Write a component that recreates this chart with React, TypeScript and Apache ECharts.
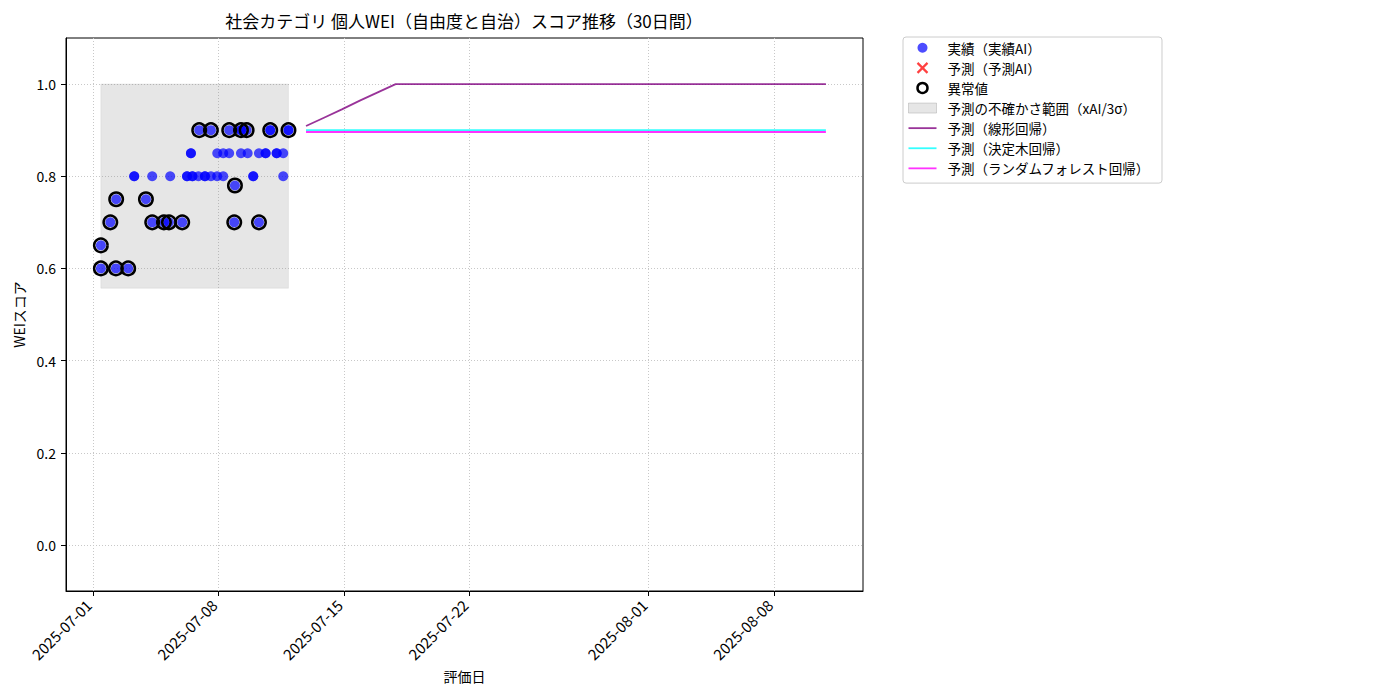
import React, { useEffect, useRef } from "react";
import * as echarts from "echarts";

// ---------- data ----------
const actualDates = [
  "2025-07-01T10:40", "2025-07-01T10:40", "2025-07-01T23:20", "2025-07-02T06:50", "2025-07-02T07:10",
  "2025-07-02T23:15", "2025-07-03T07:20", "2025-07-03T07:20", "2025-07-03T23:00", "2025-07-04T07:25",
  "2025-07-04T07:25", "2025-07-04T23:05", "2025-07-05T05:50", "2025-07-05T07:30", "2025-07-05T23:35",
  "2025-07-06T06:00", "2025-07-06T06:00", "2025-07-06T11:15", "2025-07-06T11:15", "2025-07-06T13:15",
  "2025-07-06T13:15", "2025-07-06T21:15", "2025-07-06T22:20", "2025-07-07T06:00", "2025-07-07T06:00",
  "2025-07-07T14:00", "2025-07-07T14:00", "2025-07-07T22:20", "2025-07-07T22:30", "2025-07-08T06:30",
  "2025-07-08T06:30", "2025-07-08T14:25", "2025-07-08T14:30", "2025-07-08T21:15", "2025-07-08T22:10",
  "2025-07-09T06:15", "2025-07-09T06:15", "2025-07-09T06:15", "2025-07-09T13:50", "2025-07-09T15:10",
  "2025-07-09T22:40", "2025-07-09T22:40", "2025-07-10T06:20", "2025-07-10T06:20", "2025-07-10T15:15",
  "2025-07-10T15:15", "2025-07-10T21:25", "2025-07-10T21:25", "2025-07-11T06:00", "2025-07-11T06:00",
  "2025-07-11T14:50", "2025-07-11T14:50", "2025-07-11T21:50", "2025-07-11T21:50",
];
const actualValues = [
  0.6, 0.65, 0.7, 0.6, 0.75,
  0.6, 0.8, 0.8, 0.75, 0.8,
  0.7, 0.7, 0.7, 0.8, 0.7,
  0.8, 0.8, 0.85, 0.85, 0.8,
  0.8, 0.8, 0.9, 0.8, 0.8,
  0.8, 0.9, 0.8, 0.85, 0.8,
  0.85, 0.85, 0.9, 0.7, 0.78,
  0.85, 0.9, 0.9, 0.9, 0.85,
  0.8, 0.8, 0.85, 0.7, 0.85,
  0.85, 0.9, 0.9, 0.85, 0.85,
  0.85, 0.8, 0.9, 0.9,
];

const outlierDates = [
  "2025-07-01T10:40", "2025-07-01T10:40", "2025-07-01T23:20", "2025-07-02T06:50", "2025-07-02T07:10",
  "2025-07-02T23:15", "2025-07-03T23:00", "2025-07-04T07:25", "2025-07-04T23:05", "2025-07-05T05:50",
  "2025-07-05T23:35", "2025-07-06T22:20", "2025-07-07T14:00", "2025-07-08T14:30", "2025-07-08T21:15",
  "2025-07-08T22:10", "2025-07-09T06:15", "2025-07-09T13:50", "2025-07-10T06:20", "2025-07-10T21:25",
  "2025-07-11T21:50",
];
const outlierValues = [
  0.6, 0.65, 0.7, 0.6, 0.75,
  0.6, 0.75, 0.7, 0.7, 0.7,
  0.7, 0.9, 0.9, 0.9, 0.7,
  0.78, 0.9, 0.9, 0.7, 0.9,
  0.9,
];

const predDates = [
  "2025-07-12T21:20", "2025-07-13T21:20", "2025-07-14T21:20", "2025-07-15T21:20", "2025-07-16T21:20",
  "2025-07-17T21:20", "2025-07-18T21:20", "2025-07-19T21:20", "2025-07-20T21:20", "2025-07-21T21:20",
  "2025-07-22T21:20", "2025-07-23T21:20", "2025-07-24T21:20", "2025-07-25T21:20", "2025-07-26T21:20",
  "2025-07-27T21:20", "2025-07-28T21:20", "2025-07-29T21:20", "2025-07-30T21:20", "2025-07-31T21:20",
  "2025-08-01T21:20", "2025-08-02T21:20", "2025-08-03T21:20", "2025-08-04T21:20", "2025-08-05T21:20",
  "2025-08-06T21:20", "2025-08-07T21:20", "2025-08-08T21:20", "2025-08-09T21:20", "2025-08-10T21:20",
];
const linearPred = [
  0.909, 0.927, 0.945, 0.964, 0.982, 1.0, 1.0, 1.0, 1.0, 1.0,
  1.0, 1.0, 1.0, 1.0, 1.0, 1.0, 1.0, 1.0, 1.0, 1.0,
  1.0, 1.0, 1.0, 1.0, 1.0, 1.0, 1.0, 1.0, 1.0, 1.0,
];
const treePred = [
  0.9, 0.9, 0.9, 0.9, 0.9, 0.9, 0.9, 0.9, 0.9, 0.9,
  0.9, 0.9, 0.9, 0.9, 0.9, 0.9, 0.9, 0.9, 0.9, 0.9,
  0.9, 0.9, 0.9, 0.9, 0.9, 0.9, 0.9, 0.9, 0.9, 0.9,
];
const forestPred = [
  0.896, 0.896, 0.896, 0.896, 0.896, 0.896, 0.896, 0.896, 0.896, 0.896,
  0.896, 0.896, 0.896, 0.896, 0.896, 0.896, 0.896, 0.896, 0.896, 0.896,
  0.896, 0.896, 0.896, 0.896, 0.896, 0.896, 0.896, 0.896, 0.896, 0.896,
];

const bandDates = ["2025-07-01T10:40", "2025-07-11T21:50"];
const bandLow = 0.557;
const bandHigh = 1.0;

const xTickDates = ["2025-07-01", "2025-07-08", "2025-07-15", "2025-07-22", "2025-08-01", "2025-08-08"];
const yTicks = [0.0, 0.2, 0.4, 0.6, 0.8, 1.0];
const xRange = ["2025-06-29T12:00", "2025-08-12T23:00"];
const yRange = [-0.1, 1.1];

// ---------- names ----------
const TITLE = "社会カテゴリ 個人WEI（自由度と自治）スコア推移（30日間）";
const N_ACT = "実績（実績AI）";
const N_PAI = "予測（予測AI）";
const N_OUT = "異常値";
const N_BAND = "予測の不確かさ範囲（xAI/3σ）";
const N_LIN = "予測（線形回帰）";
const N_TREE = "予測（決定木回帰）";
const N_RF = "予測（ランダムフォレスト回帰）";

const C_LIN = "rgba(128,0,128,0.8)";
const C_TREE = "rgba(0,255,255,0.8)";
const C_RF = "rgba(255,0,255,0.8)";

const FONT = '"Noto Sans CJK JP", "Noto Sans", sans-serif';
const LINE_ICON = "path://M0,0H28V1.8H0Z";
const X_ICON = "path://M1,1L11,11M11,1L1,11";

const ts = (s: string) => Date.parse(s.length === 10 ? s + "T00:00:00Z" : s + ":00Z");
const pad2 = (n: number) => String(n).padStart(2, "0");
const fmtDate = (v: number) => {
  const d = new Date(v);
  return `${d.getUTCFullYear()}-${pad2(d.getUTCMonth() + 1)}-${pad2(d.getUTCDate())}`;
};

export default function App() {
  const ref = useRef<HTMLDivElement>(null);
  useEffect(() => {
    if (!ref.current) return;
    const chart = echarts.init(ref.current, null, { renderer: "svg" });
    const xTicks = xTickDates.map(ts);
    const gridLine = { show: true, lineStyle: { color: "#c8c8c8", type: [1, 2], width: 1 } };
    const option: any = {
      animation: false,
      backgroundColor: "#ffffff",
      textStyle: { fontFamily: FONT },
      title: {
        text: TITLE,
        left: 464,
        top: 12,
        padding: 0,
        textAlign: "center",
        textStyle: { fontSize: 17, fontWeight: "normal", color: "#000", fontFamily: FONT },
      },
      legend: {
        orient: "vertical",
        left: 903,
        top: 37,
        padding: [4, 12, 8, 5],
        itemWidth: 28,
        itemHeight: 10,
        itemGap: 6.6,
        backgroundColor: "#ffffff",
        borderColor: "#cccccc",
        borderWidth: 1,
        borderRadius: 3,
        textStyle: { fontSize: 13.5, color: "#000", fontFamily: FONT, padding: [0, 0, 0, 6] },
        data: [
          { name: N_ACT, icon: "circle", itemStyle: { color: "rgba(0,0,255,0.7)", opacity: 1 } },
          {
            name: N_PAI,
            icon: X_ICON,
            itemStyle: { color: "rgba(0,0,0,0)", borderColor: "rgba(255,0,0,0.75)", borderWidth: 2.2, opacity: 1 },
          },
          {
            name: N_OUT,
            icon: "circle",
            itemStyle: { color: "rgba(0,0,0,0)", borderColor: "#000", borderWidth: 2.5, opacity: 1 },
          },
          {
            name: N_BAND,
            icon: "rect",
            itemStyle: { color: "rgba(128,128,128,0.2)", borderColor: "rgba(128,128,128,0.3)", borderWidth: 1 },
          },
          { name: N_LIN, icon: LINE_ICON, itemStyle: { color: C_LIN, borderWidth: 0 } },
          { name: N_TREE, icon: LINE_ICON, itemStyle: { color: C_TREE, borderWidth: 0 } },
          { name: N_RF, icon: LINE_ICON, itemStyle: { color: C_RF, borderWidth: 0 } },
        ],
      },
      grid: {
        left: 66,
        top: 38,
        right: 537,
        bottom: 109,
        show: true,
        borderColor: "#000",
        borderWidth: 1,
        containLabel: false,
        outerBoundsMode: "none",
      },
      xAxis: {
        type: "value",
        min: ts(xRange[0]),
        max: ts(xRange[1]),
        name: "評価日",
        nameLocation: "middle",
        nameGap: 78,
        nameTextStyle: { fontSize: 14, color: "#000", fontFamily: FONT },
        axisLine: { show: true, onZero: false, lineStyle: { color: "#000", width: 1 } },
        axisTick: { show: true, length: 5, lineStyle: { color: "#000" }, customValues: xTicks },
        axisLabel: {
          customValues: xTicks,
          rotate: 45,
          margin: 7,
          padding: [0, 6, 0, 0],
          fontSize: 15,
          color: "#000",
          fontFamily: FONT,
          formatter: (v: number) => fmtDate(v),
        },
        splitLine: gridLine,
      },
      yAxis: {
        type: "value",
        min: yRange[0],
        max: yRange[1],
        name: "WEIスコア",
        nameLocation: "middle",
        nameGap: 40,
        nameTextStyle: { fontSize: 14, color: "#000", fontFamily: FONT },
        axisLine: { show: true, onZero: false, lineStyle: { color: "#000", width: 1 } },
        axisTick: { show: true, length: 5, lineStyle: { color: "#000" }, customValues: yTicks },
        axisLabel: {
          customValues: yTicks,
          margin: 10,
          fontSize: 14,
          color: "#000",
          fontFamily: FONT,
          formatter: (v: number) => v.toFixed(1),
        },
        splitLine: gridLine,
      },
      series: [
        {
          name: N_BAND,
          type: "custom",
          z: 1,
          silent: true,
          itemStyle: { color: "rgba(128,128,128,0.2)" },
          encode: { x: [0, 1], y: [2, 3] },
          data: [[ts(bandDates[0]), ts(bandDates[1]), bandLow, bandHigh]],
          renderItem: (_params: any, api: any) => {
            const p1 = api.coord([api.value(0), api.value(3)]);
            const p2 = api.coord([api.value(1), api.value(2)]);
            return {
              type: "rect",
              shape: { x: p1[0], y: p1[1], width: p2[0] - p1[0], height: p2[1] - p1[1] },
              style: { fill: "rgba(128,128,128,0.2)", stroke: "rgba(128,128,128,0.12)", lineWidth: 1 },
            };
          },
        },
        {
          name: N_LIN,
          type: "line",
          z: 2,
          symbol: "none",
          showSymbol: false,
          itemStyle: { color: C_LIN },
          lineStyle: { color: C_LIN, width: 1.8 },
          data: predDates.map((d, i) => [ts(d), linearPred[i]]),
        },
        {
          name: N_TREE,
          type: "line",
          z: 2,
          symbol: "none",
          showSymbol: false,
          itemStyle: { color: C_TREE },
          lineStyle: { color: C_TREE, width: 1.8 },
          data: predDates.map((d, i) => [ts(d), treePred[i]]),
        },
        {
          name: N_RF,
          type: "line",
          z: 2,
          symbol: "none",
          showSymbol: false,
          itemStyle: { color: C_RF },
          lineStyle: { color: C_RF, width: 1.8 },
          data: predDates.map((d, i) => [ts(d), forestPred[i]]),
        },
        {
          name: N_ACT,
          type: "scatter",
          z: 3,
          symbol: "circle",
          symbolSize: 10,
          itemStyle: { color: "rgba(0,0,255,0.7)", opacity: 1 },
          data: actualDates.map((d, i) => [ts(d), actualValues[i]]),
        },
        {
          name: N_PAI,
          type: "scatter",
          z: 3,
          symbol: X_ICON,
          symbolSize: 12,
          itemStyle: { color: "rgba(0,0,0,0)", borderColor: "rgba(255,0,0,0.75)", borderWidth: 2.2, opacity: 1 },
          data: [],
        },
        {
          name: N_OUT,
          type: "scatter",
          z: 4,
          symbol: "circle",
          symbolSize: 13.5,
          itemStyle: { color: "rgba(0,0,0,0)", borderColor: "#000", borderWidth: 2.5, opacity: 1 },
          data: outlierDates.map((d, i) => [ts(d), outlierValues[i]]),
        },
      ],
    };
    chart.setOption(option);
    return () => chart.dispose();
  }, []);
  return (
    <div
      ref={ref}
      style={{ position: "absolute", left: 0, top: 0, width: 1400, height: 700, background: "#fff" }}
    />
  );
}
